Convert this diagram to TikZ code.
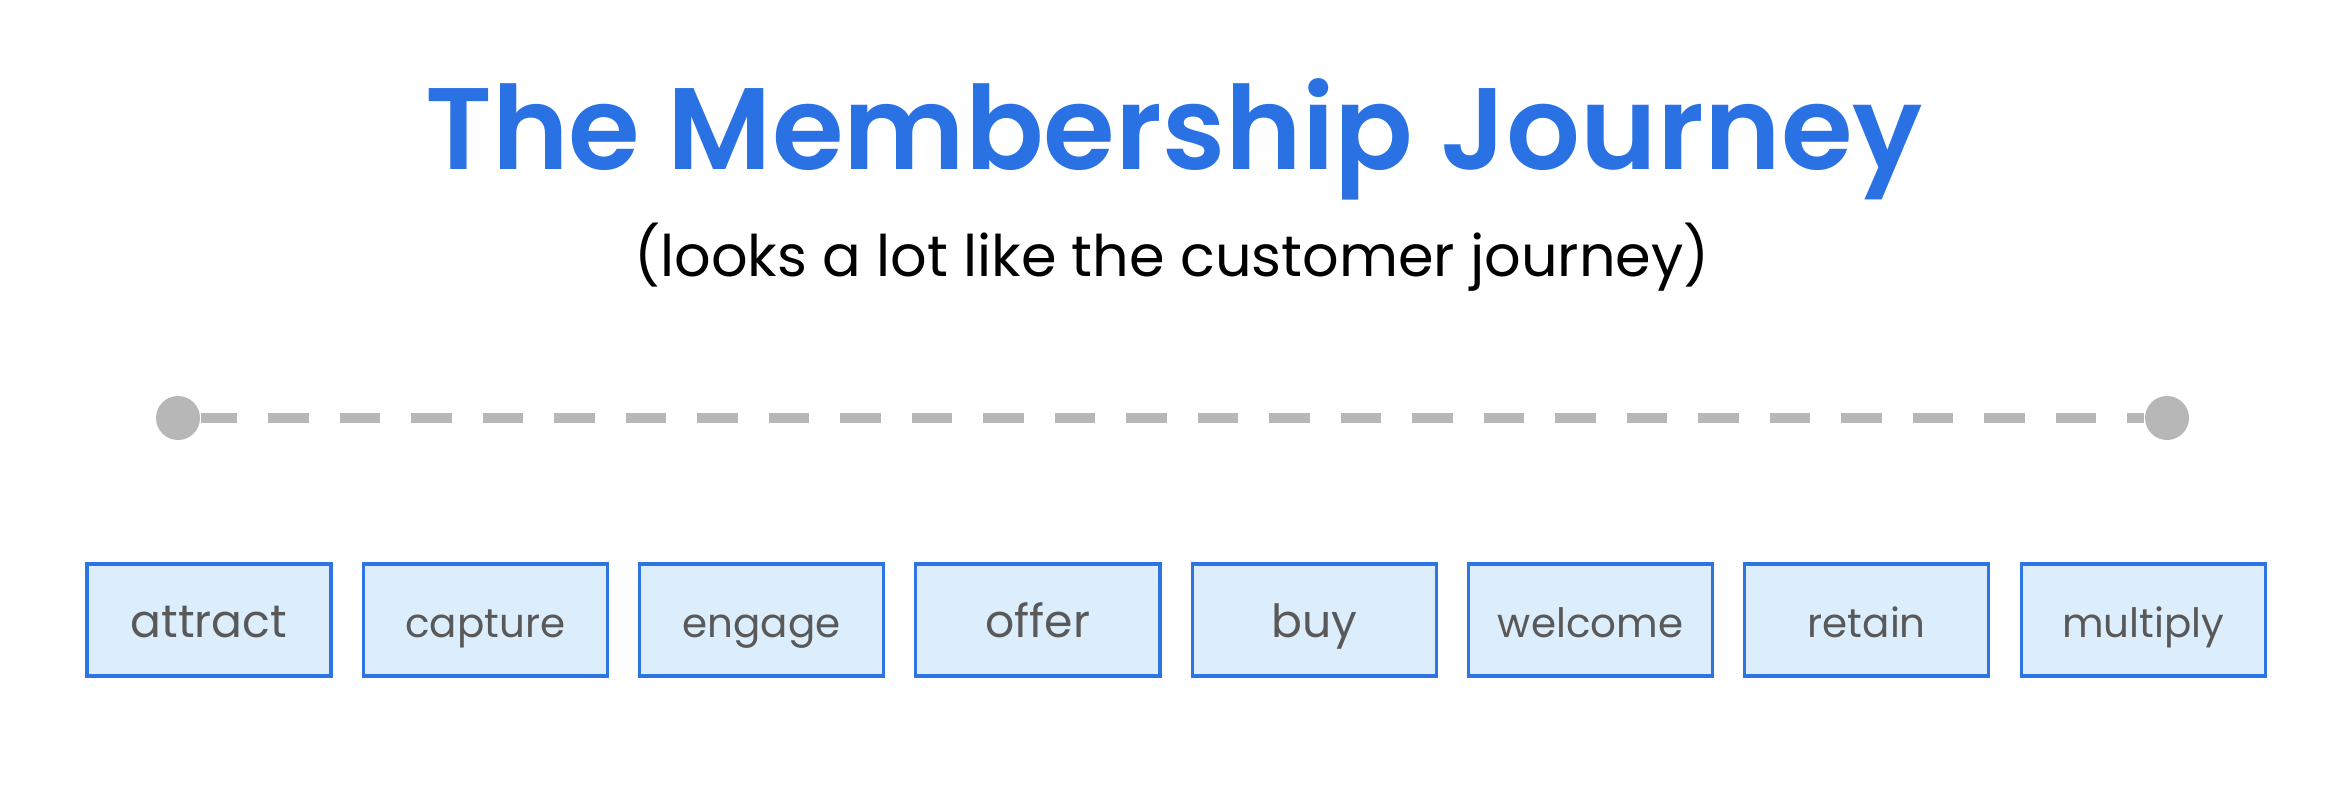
\documentclass[tikz,border=0pt]{standalone}
\usepackage{fontspec}
\setmainfont{Poppins}
\newfontfamily\titlefont{Poppins}[UprightFont=* SemiBold]
\usetikzlibrary{positioning}
\definecolor{journeyblue}{HTML}{2A71E4}
\definecolor{boxblue}{HTML}{2F74E3}
\definecolor{boxfill}{HTML}{DCEEFC}
\definecolor{labelgray}{HTML}{595959}
\definecolor{dotgray}{HTML}{B7B7B7}

\begin{document}
\begin{tikzpicture}

\tikzset{heading/.style={anchor=base,text=journeyblue,font=\titlefont\fontsize{33}{40}\selectfont,inner sep=0pt},
subheading/.style={anchor=base,text=black,font=\fontsize{16.3}{20}\selectfont,inner sep=0pt},
dot/.style={circle,fill=dotgray,minimum size=0.44cm,inner sep=0pt},
track/.style={dotgray,line width=2.85pt,dash pattern=on 0.405cm off 0.31cm,dash phase=0.04cm},
stage/.style={draw=boxblue,fill=boxfill,line width=0.9pt,minimum width=2.44cm,minimum height=1.12cm,inner sep=0pt,text=labelgray,text height=10.2pt,text depth=0pt}}

% Frame
\useasboundingbox (0,0) rectangle (23.48,-7.88);

% Titles
\node[heading] (title) at (11.74,-1.69) {The Membership Journey};
\node[subheading] (subtitle) at (11.72,-2.76) {(looks a lot like the customer journey)};

% Timeline
\node[dot] (start) at (1.78,-4.18) {};
\node[dot] (end) at (21.67,-4.18) {};
\draw[track] (start) -- (end);

% Stages
\foreach \name/\sz [count=\i from 0] in {attract/13,capture/11.5,engage/11.5,offer/13,buy/13,welcome/11.5,retain/11.5,multiply/11.5}
  \node[stage,font=\fontsize{\sz}{\sz}\selectfont] (stage\i) at (2.09+2.763*\i,-6.20) {\name};

\end{tikzpicture}
\end{document}
